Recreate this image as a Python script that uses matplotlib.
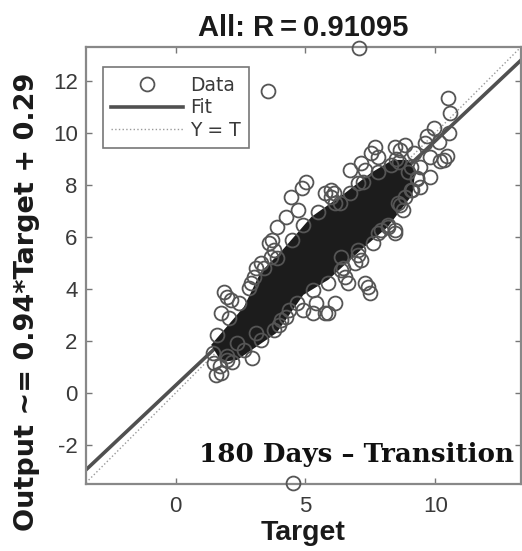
import matplotlib
matplotlib.use("Agg")
import matplotlib.pyplot as plt
import numpy as np

plt.rcParams['font.family'] = ['Liberation Sans', 'DejaVu Sans']
plt.rcParams['axes.unicode_minus'] = False

# axis range used for both target and output
lims = [-3.45, 13.3]

# regression results
slope = 0.94
intercept = 0.29
r_value = 0.91095

# sparse circles (target, output)
tgt = [7.06, 4.54, 3.55, 10.50, 10.57, 10.53, 9.96, 9.69, 10.15, 9.62,
       10.46, 10.19, 9.81, 9.81, 9.43, 9.05, 8.82, 8.63, 8.44, 8.17,
       8.44, 7.90, 7.79, 9.05, 9.43, 8.44, 8.82, 9.20, 8.66, 7.67,
       7.52, 7.79, 6.72, 7.29, 7.14, 7.02, 5.99, 5.99, 5.76, 5.04,
       4.85, 4.43, 3.89, 3.70, 3.59, 3.78, 3.09, 3.28, 3.66, 2.90,
       3.02, 1.87, 1.98, 2.14, 1.76, 2.37, 1.49, 1.76, 1.56, 1.98,
       2.18, 2.94, 3.09, 3.78, 4.05, 4.27, 4.35, 4.92, 5.31, 5.42,
       5.76, 5.88, 6.15, 7.40, 7.48, 7.29, 6.64, 6.53, 6.37, 6.90,
       7.14, 6.37, 7.02, 8.55, 10.34, 4.24, 4.73, 6.09, 6.33, 8.62,
       8.95, 9.30, 8.49]
out = [13.25, -3.48, 11.62, 11.35, 10.77, 10.00, 10.19, 9.88, 9.65, 9.62,
       9.12, 8.92, 9.08, 8.31, 7.92, 7.81, 7.54, 7.23, 6.27, 6.38,
       6.15, 6.27, 6.15, 8.69, 8.69, 9.46, 9.54, 9.23, 9.35, 9.46,
       9.23, 9.08, 8.58, 8.58, 8.85, 8.08, 7.81, 7.54, 7.69, 8.12,
       7.88, 7.54, 6.38, 5.88, 5.77, 5.50, 4.81, 5.00, 5.23, 4.23,
       4.46, 3.88, 3.69, 3.58, 3.08, 1.92, 1.15, 0.77, 0.69, 1.27,
       1.19, 1.35, 2.31, 2.42, 2.81, 2.92, 3.19, 3.19, 3.08, 3.46,
       3.08, 3.08, 3.46, 4.08, 3.85, 4.23, 4.23, 4.46, 4.73, 5.00,
       5.12, 5.23, 5.50, 7.31, 8.96, 6.77, 7.04, 7.69, 7.31, 8.88,
       8.50, 8.23, 9.00]

# circles sitting on the rim of the dense cloud
rim_t = [1.60, 2.06, 2.44, 2.82, 3.40, 3.89, 4.47, 4.92, 5.50, 6.15,
         6.72, 7.21, 7.79, 8.28, 1.98, 2.63, 3.28, 3.97, 4.66, 5.31,
         5.88, 6.45, 7.02, 7.60, 8.17, 8.74, 9.12, 9.31, 1.45, 1.70]
rim_o = [2.23, 2.88, 3.46, 4.04, 4.81, 5.19, 5.88, 6.46, 6.96, 7.31,
         7.69, 8.12, 8.50, 8.77, 1.42, 1.65, 2.04, 2.62, 3.46, 3.96,
         4.23, 4.81, 5.31, 5.77, 6.46, 7.04, 7.81, 8.27, 1.55, 1.05]

# outline of the solid black core where circles overlap completely
core_t = [1.37, 2.63, 3.28, 4.05, 5.23, 6.53, 7.52, 8.36, 8.93,
          9.24, 9.12, 8.17, 7.14, 5.88, 4.92, 3.89, 2.37, 1.76]
core_o = [1.85, 3.31, 4.65, 5.42, 6.77, 7.69, 8.46, 8.96, 8.96,
          8.58, 7.62, 6.38, 5.50, 4.35, 3.77, 2.31, 1.27, 1.19]

fig = plt.figure(figsize=(5.22, 5.51), dpi=100)
ax = fig.add_axes([0.1648, 0.1216, 0.8332, 0.7931])

xx = np.array(lims)
ax.plot(xx, slope * xx + intercept, color='#505050', lw=2.6, zorder=1, label='Fit')
ax.plot(xx, xx, ':', color='#9a9a9a', lw=1.0, zorder=1, label='Y = T')

ax.fill(core_t, core_o, color='#1c1c1c', lw=0, zorder=2)
ax.plot(tgt + rim_t, out + rim_o, 'o', mfc='none', mec='#555555', ms=10,
        mew=1.3, zorder=3, label='Data', clip_on=False)

ax.set_xlim(lims)
ax.set_ylim(lims[0] - 0.05, lims[1])
ax.set_xticks([0, 5, 10])
ax.set_yticks([-2, 0, 2, 4, 6, 8, 10, 12])
ax.tick_params(direction='in', top=True, right=True, length=4, width=1,
               colors='#777777', labelcolor='#3a3a3a', labelsize=16)
ax.tick_params(axis='x', pad=9)
ax.tick_params(axis='y', pad=6)
for s in ax.spines.values():
    s.set_color('#888888')
    s.set_linewidth(1.6)

ax.set_title(f'All: R\u2009=\u2009{r_value:.5f}', fontsize=21, fontweight='bold',
             pad=8, color='#1a1a1a')
ax.set_xlabel('Target', fontsize=20.5, fontweight='bold', labelpad=2, color='#1a1a1a')
ax.set_ylabel(f'Output ~= {slope:.2f}*Target + {intercept:.2f}', fontsize=19.5,
              fontweight='bold', family='DejaVu Sans', color='#1a1a1a')
ax.yaxis.set_label_coords(-0.105, 0.418)

handles, labels = ax.get_legend_handles_labels()
order = [2, 0, 1]
leg = ax.legend([handles[i] for i in order], [labels[i] for i in order],
                loc='upper left', bbox_to_anchor=(0.039, 0.954),
                prop={'family': 'DejaVu Sans', 'size': 13.5},
                handlelength=3.8, handletextpad=0.4, labelspacing=0.2,
                borderpad=0.45, fancybox=False, framealpha=1, borderaxespad=0)
leg.get_frame().set_edgecolor('#777777')
leg.get_frame().set_linewidth(1.2)
for t in leg.get_texts():
    t.set_color('#3a3a3a')

ax.text(0.985, 0.05, '180 Days \u2013 Transition', transform=ax.transAxes,
        ha='right', va='baseline', fontsize=18.8, fontweight='bold',
        family='DejaVu Serif', color='#111111', zorder=5)

fig.savefig('out.png', dpi=100)
